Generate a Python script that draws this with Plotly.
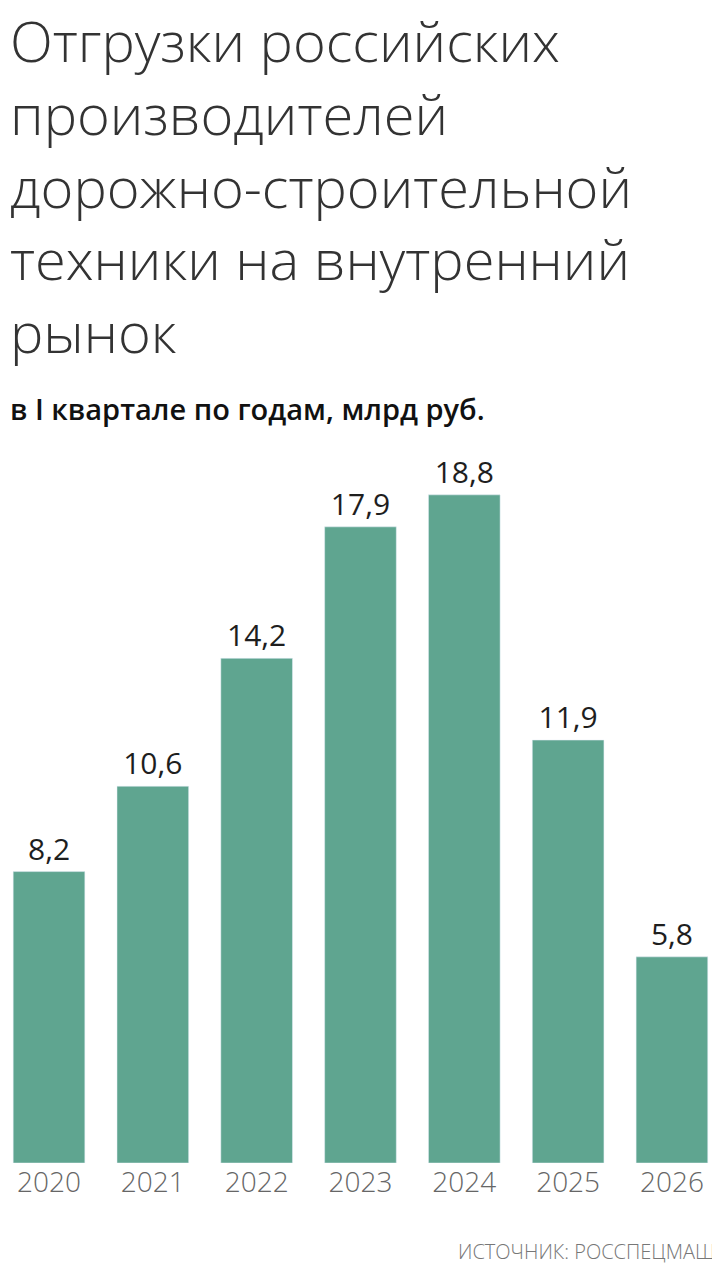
import plotly.graph_objects as go

years = ['2020', '2021', '2022', '2023', '2024', '2025', '2026']
values = [8.2, 10.6, 14.2, 17.9, 18.8, 11.9, 5.8]
labels = ['8,2', '10,6', '14,2', '17,9', '18,8', '11,9', '5,8']

title = 'Отгрузки российских<br>производителей<br>дорожно-строительной<br>техники на внутренний<br>рынок'
subtitle = 'в I квартале по годам, млрд руб.'
source = 'ИСТОЧНИК: РОССПЕЦМАШ'

fig = go.Figure(go.Bar(
    x=years, y=values, text=labels, textposition='outside',
    marker_color='#5fa590', cliponaxis=False,
    textfont=dict(family='Open Sans', size=30, color='#1e1e1e'),
))

fig.update_layout(
    width=720, height=1280,
    margin=dict(l=0, r=0, t=430, b=125),
    paper_bgcolor='white', plot_bgcolor='white',
    bargap=0.31, showlegend=False,
    xaxis=dict(range=[-0.395, 6.54], showline=False, ticks='',
               tickfont=dict(family='Open Sans', size=28, color='#666', weight=300)),
    yaxis=dict(visible=False, range=[0, 20.4]),
    annotations=[
        dict(text=title, xref='paper', yref='paper', x=0, y=1, yshift=438, xanchor='left', yanchor='top',
             align='left', showarrow=False, font=dict(family='Open Sans', size=56, color='#333', weight=300)),
        dict(text=subtitle, xref='paper', yref='paper', x=0, y=1, yshift=30, xanchor='left', yanchor='middle',
             showarrow=False, font=dict(family='Open Sans', size=29, color='#111', weight=600)),
        dict(text=source, xref='paper', yref='paper', x=0.985, y=0, yshift=-88, xanchor='right', yanchor='middle',
             showarrow=False, font=dict(family='Open Sans', size=20, color='#777', weight=300)),
    ],
)

fig.write_html('out.html')
